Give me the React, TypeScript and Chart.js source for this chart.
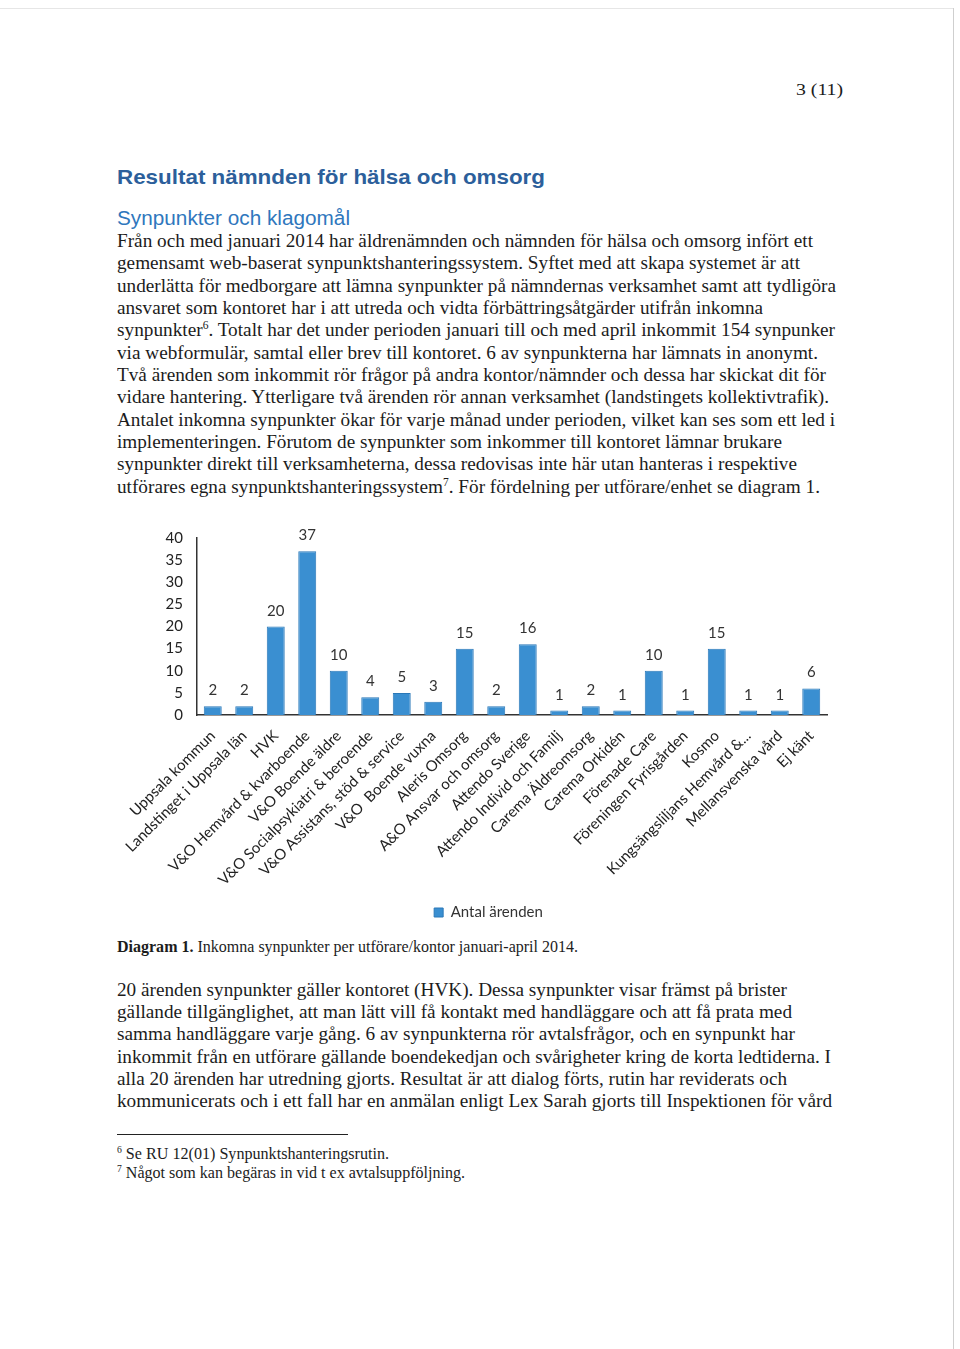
import React, { useEffect, useLayoutEffect, useRef } from "react";
import { Chart, registerables } from "chart.js";

Chart.register(...registerables);

// ---------- chart data ----------
const categories = [
  "Uppsala kommun",
  "Landstinget i Uppsala län",
  "HVK",
  "V&O Hemvård & kvarboende",
  "V&O Boende äldre",
  "V&O Socialpsykiatri & beroende",
  "V&O Assistans, stöd & service",
  "V&O  Boende vuxna",
  "Aleris Omsorg",
  "A&O Ansvar och omsorg",
  "Attendo Sverige",
  "Attendo Individ och Familj",
  "Carema Äldreomsorg",
  "Carema Orkidén",
  "Förenade Care",
  "Föreningen Fyrisgården",
  "Kosmo",
  "Kungsängsliljans Hemvård &...",
  "Mellansvenska vård",
  "Ej känt",
];
const values = [2, 2, 20, 37, 10, 4, 5, 3, 15, 2, 16, 1, 2, 1, 10, 1, 15, 1, 1, 6];
const seriesLabel = "Antal ärenden";
const yMin = 0;
const yMax = 40;
const yStep = 5;

// ---------- page text ----------
const pageNumber = "3 (11)";
const heading1 = "Resultat nämnden för hälsa och omsorg";
const heading2 = "Synpunkter och klagomål";
const caption = "Inkomna synpunkter per utförare/kontor januari-april 2014.";

const BAR = "#3a8fd1";
const BAR_BORDER = "#2a78b8";
const FONT = "Lato, 'Open Sans', sans-serif";
const SERIF = "'Liberation Serif', 'DejaVu Serif', serif";
const SANS = "'Liberation Sans', Arial, sans-serif";

const valueLabels = {
  id: "valueLabels",
  afterDatasetsDraw(chart: any) {
    const ctx = chart.ctx;
    const meta = chart.getDatasetMeta(0);
    ctx.save();
    ctx.font = `15px ${FONT}`;
    ctx.fillStyle = "#333";
    ctx.textAlign = "center";
    ctx.textBaseline = "alphabetic";
    meta.data.forEach((bar: any, i: number) => {
      ctx.fillText(String(values[i]), bar.x, bar.y - 11);
    });
    ctx.restore();
  },
};

function BarChart() {
  const ref = useRef<HTMLCanvasElement>(null);
  useEffect(() => {
    const chart = new Chart(ref.current as HTMLCanvasElement, {
      type: "bar",
      data: {
        labels: categories,
        datasets: [
          {
            label: seriesLabel,
            data: values,
            backgroundColor: BAR,
            borderColor: BAR_BORDER,
            borderWidth: 1,
            barPercentage: 0.57,
            categoryPercentage: 1,
          },
        ],
      },
      options: {
        animation: false,
        responsive: true,
        maintainAspectRatio: false,
        layout: { padding: { left: 50, right: 33, top: 23, bottom: 0 } },
        plugins: {
          legend: {
            position: "bottom",
            labels: {
              boxWidth: 9,
              boxHeight: 9,
              padding: 15,
              font: { family: FONT, size: 15 },
              color: "#333",
            },
          },
          tooltip: { enabled: false },
        },
        scales: {
          x: {
            grid: { display: false, drawTicks: false },
            border: { display: true, color: "#333", width: 1.5 },
            ticks: {
              autoSkip: false,
              maxRotation: 45,
              minRotation: 45,
              padding: 12,
              font: { family: FONT, size: 15 },
              color: "#222",
            },
            afterFit: (s: any) => {
              s.height = 175;
            },
          },
          y: {
            min: yMin,
            max: yMax,
            grid: { display: false, drawTicks: false },
            border: { display: true, color: "#333", width: 1.5 },
            ticks: {
              stepSize: yStep,
              padding: 14,
              font: { family: FONT, size: 15 },
              color: "#222",
            },
            afterFit: (s: any) => {
              s.width = 47;
            },
          },
        },
      },
      plugins: [valueLabels],
    } as any);
    return () => chart.destroy();
  }, []);
  return (
    <div style={{ position: "absolute", left: 100, top: 515, width: 760, height: 415 }}>
      <canvas ref={ref} />
    </div>
  );
}

function FitLine(props: {
  left: number;
  center: number;
  right: number;
  size: number;
  lh: number;
  family?: string;
  color?: string;
  weight?: number | string;
  children: React.ReactNode;
}) {
  const ref = useRef<HTMLSpanElement>(null);
  const target = props.right - props.left;
  useLayoutEffect(() => {
    const el = ref.current;
    if (!el) return;
    el.style.transform = "none";
    const w = el.getBoundingClientRect().width;
    if (w > 0) el.style.transform = `scaleX(${target / w})`;
  }, [target]);
  return (
    <div
      style={{
        position: "absolute",
        left: props.left,
        top: props.center - props.lh / 2,
        height: props.lh,
        lineHeight: props.lh + "px",
        fontSize: props.size,
        fontFamily: props.family || SERIF,
        color: props.color || "#1c1c1c",
        fontWeight: props.weight || "normal",
        whiteSpace: "pre",
      }}
    >
      <span ref={ref} style={{ display: "inline-block", transformOrigin: "0 0" }}>
        {props.children}
      </span>
    </div>
  );
}

const sup = (n: string) => (
  <sup style={{ fontSize: "0.6em", lineHeight: 0, verticalAlign: "0.6em" }}>{n}</sup>
);

type Line = { c: number; r: number; t: React.ReactNode };

const para1: Line[] = [
  { c: 241, r: 813, t: "Från och med januari 2014 har äldrenämnden och nämnden för hälsa och omsorg infört ett" },
  { c: 263, r: 800, t: "gemensamt web-baserat synpunktshanteringssystem. Syftet med att skapa systemet är att" },
  { c: 286, r: 836, t: "underlätta för medborgare att lämna synpunkter på nämndernas verksamhet samt att tydligöra" },
  { c: 308, r: 763, t: "ansvaret som kontoret har i att utreda och vidta förbättringsåtgärder utifrån inkomna" },
  { c: 330, r: 835, t: <>synpunkter{sup("6")}. Totalt har det under perioden januari till och med april inkommit 154 synpunker</> },
  { c: 353, r: 818, t: "via webformulär, samtal eller brev till kontoret. 6 av synpunkterna har lämnats in anonymt." },
  { c: 375, r: 826, t: "Två ärenden som inkommit rör frågor på andra kontor/nämnder och dessa har skickat dit för" },
  { c: 397, r: 829, t: "vidare hantering. Ytterligare två ärenden rör annan verksamhet (landstingets kollektivtrafik)." },
  { c: 420, r: 835, t: "Antalet inkomna synpunkter ökar för varje månad under perioden, vilket kan ses som ett led i" },
  { c: 442, r: 782, t: "implementeringen. Förutom de synpunkter som inkommer till kontoret lämnar brukare" },
  { c: 464, r: 797, t: "synpunkter direkt till verksamheterna, dessa redovisas inte här utan hanteras i respektive" },
  { c: 487, r: 820, t: <>utförares egna synpunktshanteringssystem{sup("7")}. För fördelning per utförare/enhet se diagram 1.</> },
];

const para2: Line[] = [
  { c: 990, r: 787, t: "20 ärenden synpunkter gäller kontoret (HVK). Dessa synpunkter visar främst på brister" },
  { c: 1012, r: 792, t: "gällande tillgänglighet, att man lätt vill få kontakt med handläggare och att få prata med" },
  { c: 1034, r: 795, t: "samma handläggare varje gång. 6 av synpunkterna rör avtalsfrågor, och en synpunkt har" },
  { c: 1057, r: 831, t: "inkommit från en utförare gällande boendekedjan och svårigheter kring de korta ledtiderna. I" },
  { c: 1079, r: 787, t: "alla 20 ärenden har utredning gjorts. Resultat är att dialog förts, rutin har reviderats och" },
  { c: 1101, r: 832, t: "kommunicerats och i ett fall har en anmälan enligt Lex Sarah gjorts till Inspektionen för vård" },
];

const footnotes: Line[] = [
  { c: 1153, r: 389, t: <>{sup("6")} Se RU 12(01) Synpunktshanteringsrutin.</> },
  { c: 1172, r: 465, t: <>{sup("7")} Något som kan begäras in vid t ex avtalsuppföljning.</> },
];

export default function App() {
  return (
    <div style={{ position: "relative", width: 960, height: 1349, background: "#fff", overflow: "hidden" }}>
      <style>{`body{margin:0;background:#fff}`}</style>
      <div style={{ position: "absolute", left: 0, top: 8, width: 953, height: 1, background: "#e6e6e6" }} />
      <div style={{ position: "absolute", left: 953, top: 8, width: 1, height: 1341, background: "#cfcfcf" }} />

      <BarChart />

      <FitLine left={796} center={90} right={843} size={17} lh={20}>
        {pageNumber}
      </FitLine>
      <FitLine left={117} center={177} right={545} size={21} lh={26} family={SANS} weight="bold" color="#2c5f9b">
        {heading1}
      </FitLine>
      <FitLine left={117} center={218} right={350} size={20} lh={24} family={SANS} color="#2f77bd">
        {heading2}
      </FitLine>

      {para1.map((l, i) => (
        <FitLine key={"p1" + i} left={117} center={l.c} right={l.r} size={19.5} lh={22}>
          {l.t}
        </FitLine>
      ))}

      <FitLine left={117} center={947} right={578} size={16} lh={20}>
        <b>Diagram 1.</b> {caption}
      </FitLine>

      {para2.map((l, i) => (
        <FitLine key={"p2" + i} left={117} center={l.c} right={l.r} size={19.5} lh={22}>
          {l.t}
        </FitLine>
      ))}

      <div style={{ position: "absolute", left: 117, top: 1134, width: 231, height: 1, background: "#222" }} />

      {footnotes.map((l, i) => (
        <FitLine key={"fn" + i} left={117} center={l.c} right={l.r} size={16} lh={19}>
          {l.t}
        </FitLine>
      ))}
    </div>
  );
}
